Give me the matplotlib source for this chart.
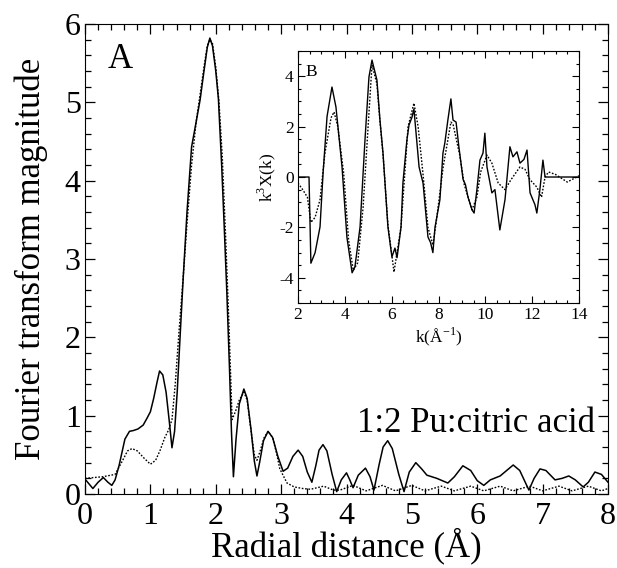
import matplotlib
matplotlib.use('Agg')
import matplotlib.pyplot as plt
from matplotlib.ticker import MultipleLocator

plt.rcParams['font.family'] = ['Liberation Serif', 'DejaVu Serif']
plt.rcParams['mathtext.fontset'] = 'custom'
plt.rcParams['mathtext.rm'] = 'Liberation Serif'
plt.rcParams['axes.unicode_minus'] = False
plt.rcParams['ytick.alignment'] = 'center_baseline'

# main panel: Fourier transform magnitude vs radial distance
r_solid = [0.00, 0.07, 0.12, 0.20, 0.28, 0.35, 0.41, 0.46, 0.52, 0.61, 0.68, 0.74, 0.81, 0.89,
           0.95, 1.00, 1.05, 1.10, 1.14, 1.19, 1.24, 1.29, 1.33, 1.37, 1.41, 1.46, 1.50, 1.56,
           1.63, 1.70, 1.76, 1.82, 1.87, 1.91, 1.95, 2.00, 2.04, 2.09, 2.13, 2.17, 2.21, 2.24,
           2.27, 2.31, 2.36, 2.43, 2.48, 2.54, 2.59, 2.63, 2.67, 2.73, 2.80, 2.87, 2.95, 3.03,
           3.10, 3.18, 3.26, 3.33, 3.40, 3.47, 3.53, 3.58, 3.64, 3.70, 3.78, 3.85, 3.92, 4.00,
           4.05, 4.10, 4.18, 4.29, 4.36, 4.42, 4.50, 4.56, 4.63, 4.70, 4.80, 4.88, 4.96, 5.06,
           5.15, 5.23, 5.38, 5.55, 5.65, 5.78, 5.90, 6.00, 6.10, 6.20, 6.35, 6.45, 6.55, 6.65,
           6.79, 6.87, 6.96, 7.05, 7.19, 7.30, 7.40, 7.50, 7.62, 7.70, 7.80, 7.90, 8.00]
ft_solid = [0.19, 0.12, 0.07, 0.15, 0.21, 0.15, 0.11, 0.18, 0.36, 0.70, 0.80, 0.81, 0.83, 0.88,
            0.97, 1.05, 1.22, 1.42, 1.57, 1.52, 1.30, 0.92, 0.59, 0.80, 1.30, 2.10, 2.73, 3.60,
            4.43, 4.75, 5.03, 5.40, 5.70, 5.82, 5.72, 5.40, 5.05, 4.20, 3.40, 2.56, 1.60, 0.80,
            0.22, 0.70, 1.15, 1.34, 1.22, 0.82, 0.42, 0.23, 0.40, 0.68, 0.80, 0.72, 0.48, 0.29,
            0.33, 0.48, 0.56, 0.48, 0.28, 0.15, 0.36, 0.56, 0.63, 0.55, 0.25, 0.03, 0.18, 0.27,
            0.18, 0.08, 0.24, 0.33, 0.22, 0.05, 0.38, 0.60, 0.68, 0.58, 0.25, 0.03, 0.28, 0.40,
            0.32, 0.24, 0.20, 0.14, 0.22, 0.36, 0.30, 0.17, 0.11, 0.18, 0.23, 0.30, 0.37, 0.30,
            0.05, 0.20, 0.32, 0.30, 0.18, 0.20, 0.23, 0.18, 0.09, 0.15, 0.28, 0.25, 0.15]

r_dot = [0.00, 0.27, 0.46, 0.57, 0.65, 0.72, 0.80, 0.90, 1.00, 1.08, 1.15, 1.22, 1.28, 1.33,
         1.38, 1.44, 1.50, 1.56, 1.63, 1.70, 1.76, 1.82, 1.87, 1.91, 1.95, 2.00, 2.05, 2.10,
         2.15, 2.20, 2.25, 2.30, 2.36, 2.43, 2.48, 2.54, 2.59, 2.63, 2.68, 2.74, 2.80, 2.87,
         2.93, 2.98, 3.09, 3.20, 3.33, 3.45, 3.55, 3.65, 3.80, 3.90, 4.10, 4.30, 4.55, 4.75,
         5.00, 5.20, 5.45, 5.65, 5.90, 6.10, 6.35, 6.55, 6.80, 7.00, 7.25, 7.45, 7.70, 7.90, 8.00]
ft_dot = [0.20, 0.22, 0.25, 0.42, 0.55, 0.58, 0.55, 0.46, 0.38, 0.43, 0.56, 0.72, 0.82, 0.95,
          1.40, 2.10, 2.75, 3.45, 4.20, 4.75, 5.10, 5.45, 5.72, 5.80, 5.75, 5.45, 5.00, 4.30,
          3.30, 2.20, 0.95, 1.05, 1.20, 1.30, 1.20, 0.80, 0.50, 0.43, 0.55, 0.72, 0.80, 0.72,
          0.52, 0.32, 0.14, 0.09, 0.07, 0.06, 0.08, 0.10, 0.05, 0.05, 0.11, 0.04, 0.11, 0.04,
          0.11, 0.04, 0.10, 0.04, 0.10, 0.04, 0.10, 0.04, 0.10, 0.04, 0.10, 0.04, 0.10, 0.04, 0.07]

# inset: k^3-weighted EXAFS
k_solid = [2.00, 2.47, 2.55, 2.73, 2.94, 3.07, 3.24, 3.45, 3.62, 3.88, 4.09, 4.31, 4.43, 4.65,
           4.86, 5.03, 5.16, 5.37, 5.50, 5.63, 5.84, 6.01, 6.14, 6.23, 6.40, 6.48, 6.65, 6.74,
           6.87, 6.95, 7.17, 7.34, 7.55, 7.66, 7.76, 7.85, 8.06, 8.19, 8.27, 8.40, 8.53, 8.62,
           8.75, 8.87, 9.05, 9.15, 9.26, 9.43, 9.52, 9.64, 9.77, 9.90, 9.98, 10.07, 10.28, 10.41,
           10.62, 10.84, 11.05, 11.18, 11.35, 11.48, 11.65, 11.78, 11.91, 12.03, 12.12, 12.20,
           12.33, 12.46, 12.55, 14.00]
chi_solid = [0.00, 0.00, -3.42, -3.00, -1.98, 0.15, 2.40, 3.57, 2.78, 0.40, -2.40, -3.80, -3.57, -1.98,
             1.47, 3.97, 4.64, 3.85, 2.26, 0.95, -1.98, -3.17, -2.82, -3.20, -1.98, -0.24, 1.47, 2.06,
             2.38, 2.70, 0.40, -0.24, -2.38, -2.60, -3.00, -2.00, -0.90, 0.95, 1.35, 2.26, 3.10, 2.26,
             2.18, 1.20, -0.10, -0.30, -0.80, -1.30, -1.43, -0.50, 0.67, 0.95, 1.74, 0.40, -0.63, -0.50,
             -2.10, -0.90, 1.20, 0.80, 1.00, 0.55, 0.70, 1.07, -0.63, -0.90, -1.10, -1.43,
             -0.50, 0.67, 0.00, 0.00]

k_dot = [2.00, 2.20, 2.40, 2.55, 2.73, 2.94, 3.15, 3.41, 3.54, 3.70, 3.95, 4.16, 4.36, 4.55,
         4.78, 5.00, 5.16, 5.37, 5.50, 5.63, 5.84, 6.10, 6.40, 6.70, 6.95, 7.13, 7.34, 7.55,
         7.76, 7.90, 8.20, 8.53, 8.62, 8.90, 9.10, 9.43, 9.64, 9.80, 10.07, 10.28, 10.55, 10.84,
         11.10, 11.48, 11.70, 11.90, 12.20, 12.40, 12.55, 12.70, 13.00, 13.50, 13.90, 14.00]
chi_dot = [-0.24, -0.50, -0.80, -1.80, -1.60, -0.90, 0.95, 2.35, 2.58, 2.00, 0.15, -2.50, -3.70, -3.40,
           -1.20, 2.10, 4.45, 3.70, 2.20, 0.90, -1.90, -3.77, -1.98, 2.00, 2.93, 2.00, 0.10, -2.00,
           -2.70, -1.80, 0.40, 2.18, 2.10, 0.90, -0.30, -1.30, -0.80, 0.20, 0.87, 0.55, -0.24, -0.50,
           -0.10, 0.40, 0.30, -0.10, -0.40, -0.80, 0.00, 0.20, 0.10, -0.20, 0.00, 0.05]

fig = plt.figure(figsize=(6.17, 5.68), dpi=100)
ax = fig.add_axes([0.1378, 0.1303, 0.8476, 0.8275])
ax.plot(r_solid, ft_solid, color='black', lw=1.1)
ax.plot(r_dot, ft_dot, color='black', lw=1.0, ls=(0, (1.2, 1.2)))
ax.set_xlim(0, 8)
ax.set_ylim(0, 6)
ax.xaxis.set_major_locator(MultipleLocator(1))
ax.xaxis.set_minor_locator(MultipleLocator(0.2))
ax.yaxis.set_major_locator(MultipleLocator(1))
ax.yaxis.set_minor_locator(MultipleLocator(0.2))
ax.tick_params(which='both', direction='in', top=True, right=True, width=0.9, labelsize=23)
ax.tick_params(axis='x', pad=6)
ax.tick_params(axis='y', pad=3)
ax.tick_params(which='major', length=7)
ax.tick_params(which='minor', length=4)
ax.set_xlabel('Radial distance (Å)', fontsize=25, labelpad=-3)
ax.set_ylabel('Fourier transform magnitude', fontsize=25, labelpad=12)
ax.text(0.35, 5.44, 'A', fontsize=25)
ax.text(7.8, 0.79, '1:2 Pu:citric acid', fontsize=25, ha='right')

ins = fig.add_axes([0.483, 0.4665, 0.4554, 0.4437])
ins.plot(k_solid, chi_solid, color='black', lw=1.0)
ins.plot(k_dot, chi_dot, color='black', lw=1.0, ls=(0, (1.2, 1.2)))
ins.set_xlim(2, 14)
ins.set_ylim(-5, 5)
ins.xaxis.set_major_locator(MultipleLocator(2))
ins.xaxis.set_minor_locator(MultipleLocator(0.5))
ins.yaxis.set_major_locator(MultipleLocator(2))
ins.yaxis.set_minor_locator(MultipleLocator(0.5))
ins.tick_params(which='both', direction='in', top=True, right=True, width=0.8, labelsize=12.5, pad=3)
ins.tick_params(which='major', length=5)
ins.tick_params(which='minor', length=2.5)
ins.set_xlabel(r'k(Å$^{\mathrm{-1}}$)', fontsize=12.5, labelpad=2)
ins.set_ylabel(r'k$^{\mathrm{3}}$X(k)', fontsize=12.5, labelpad=1)
ins.text(2.3, 4.0, 'B', fontsize=12.5)

fig.savefig('out.png', dpi=100)
